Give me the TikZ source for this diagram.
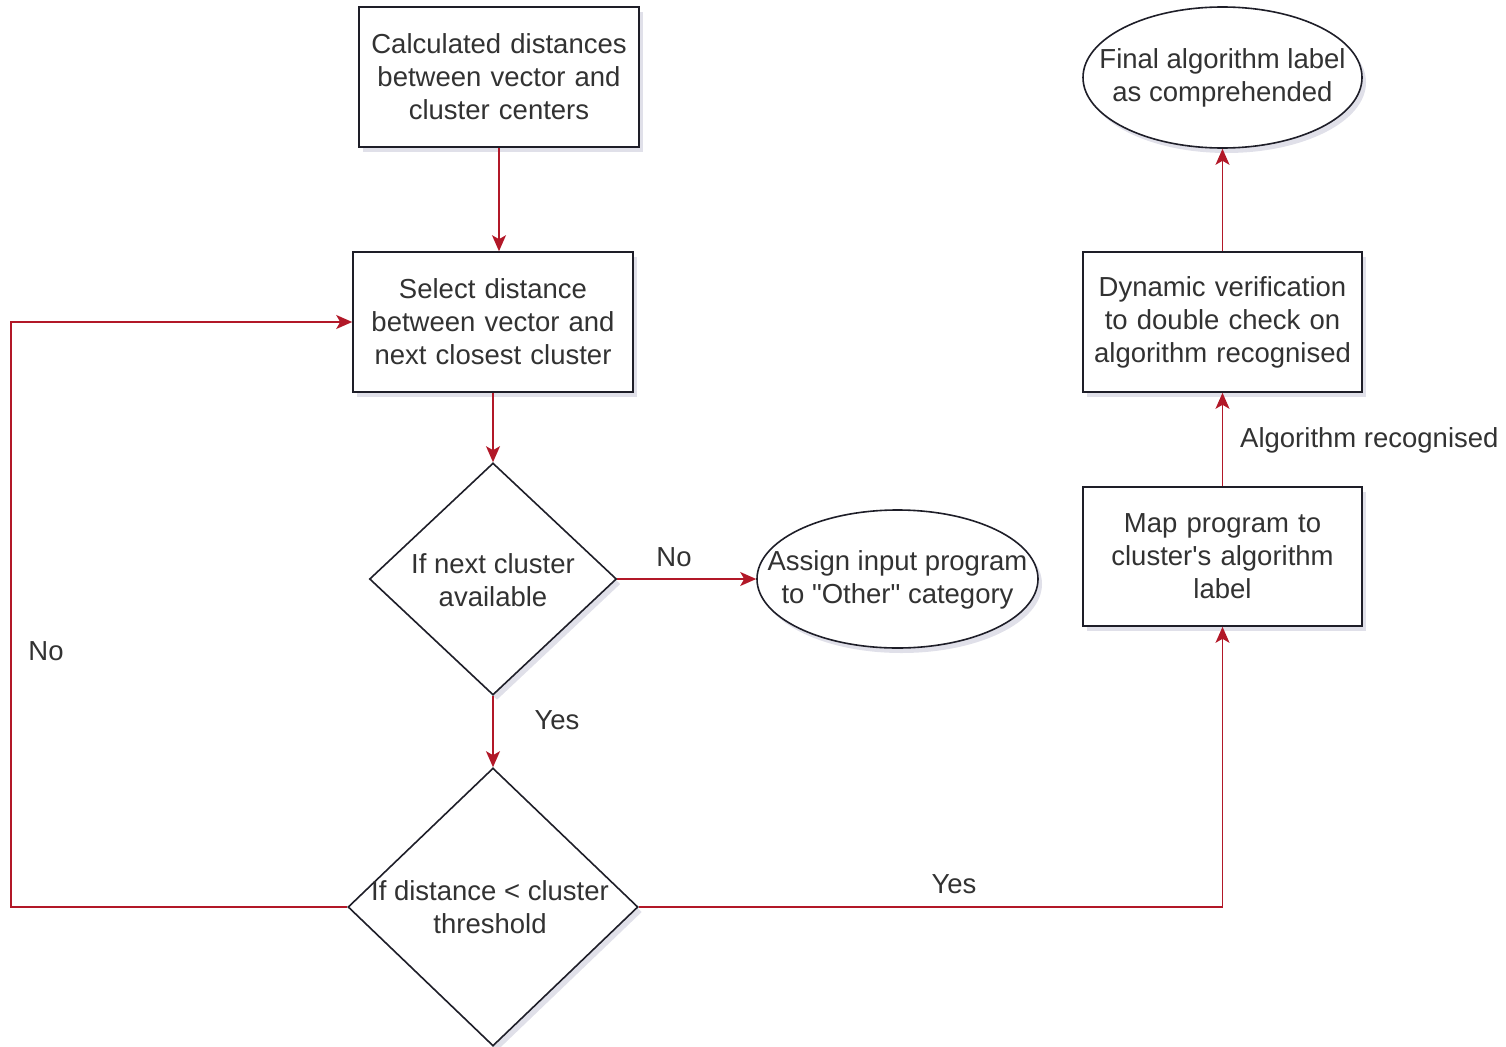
\documentclass[tikz,border=0pt]{standalone}
\usepackage{fontspec}
\setmainfont[Ligatures=NoCommon]{Liberation Sans}
\usetikzlibrary{arrows.meta,shapes.geometric,shadows}
\definecolor{edgec}{RGB}{178,24,40}
\definecolor{bord}{RGB}{30,30,40}
\definecolor{txt}{RGB}{50,50,50}
\begin{document}
\begin{tikzpicture}[x=1pt,y=-1pt,
  every node/.style={font=\fontsize{27.5}{33}\selectfont, text=txt},
  shd/.style={drop shadow={shadow xshift=4pt, shadow yshift=-5pt, opacity=0.12, fill=blue!30!black}},
  box/.style={draw=bord, line width=1.6pt, fill=white, minimum width=280pt, minimum height=140pt, inner sep=0pt, text width=272pt, align=center, shd},
  oval/.style={ellipse, draw=bord, line width=1.6pt, fill=white, inner sep=0pt, shd},
  dia/.style={diamond, draw=bord, line width=1.6pt, fill=white, inner sep=0pt, shd},
  inner/.style={align=center, inner sep=0pt},
  arr/.style={draw=edgec, line width=1.5pt, -{Stealth[length=16pt,width=14pt,inset=4pt]}},
  elab/.style={inner sep=0pt}
]
\useasboundingbox (0,0) rectangle (1506,1046);

% nodes
\node[box] (b1) at (499,77) {Calculated distances\\between vector and\\cluster centers};
\node[box] (b2) at (493,322) {Select distance\\between vector and\\next closest cluster};
\node[dia, minimum width=247pt, minimum height=232pt] (d1) at (493,579) {};
\node[inner] (d1t) at (493,580) {If next cluster\\available};
\node[dia, minimum width=290pt, minimum height=278pt] (d2) at (493,907) {};
\node[inner] (d2t) at (490,907) {If distance < cluster\\threshold};
\node[oval, minimum width=281pt, minimum height=138pt] (e1) at (897.5,579) {};
\node[inner] (e1t) at (897.5,580) {Assign input program\\to \textquotedbl Other\textquotedbl\ category};
\node[oval, minimum width=279pt, minimum height=141pt] (fin) at (1222.5,77.5) {};
\node[inner] (fint) at (1222.5,78) {Final algorithm label\\as comprehended};
\node[box, minimum width=279pt] (dyn) at (1222.5,322) {Dynamic verification\\to double check on\\algorithm recognised};
\node[box, minimum width=279pt, minimum height=139pt] (map) at (1222.5,556.5) {Map program to\\cluster\textquotesingle s algorithm\\label};

% connectors
\draw[arr] (b1.south) -- (b1.south |- b2.north);
\draw[arr] (b2.south) -- (d1.north);
\draw[arr] (d1.east) -- (e1.west);
\draw[arr] (d1.south) -- (d2.north);
\coordinate (cl) at (11,907);
\draw[arr] (d2.west) -- (cl) |- (b2.west);
\draw[arr] (d2.east) -| (map.south);
\draw[arr] (map.north) -- (dyn.south);
\draw[arr] (dyn.north) -- (fin.south);

% edge labels
\node[elab] (l1) at (674,557) {No};
\node[elab] (l2) at (557,720) {Yes};
\node[elab] (l3) at (46,651) {No};
\node[elab] (l4) at (954,884) {Yes};
\node[elab, anchor=west] (l5) at (1240,440) {Algorithm recognised};
\end{tikzpicture}
\end{document}
